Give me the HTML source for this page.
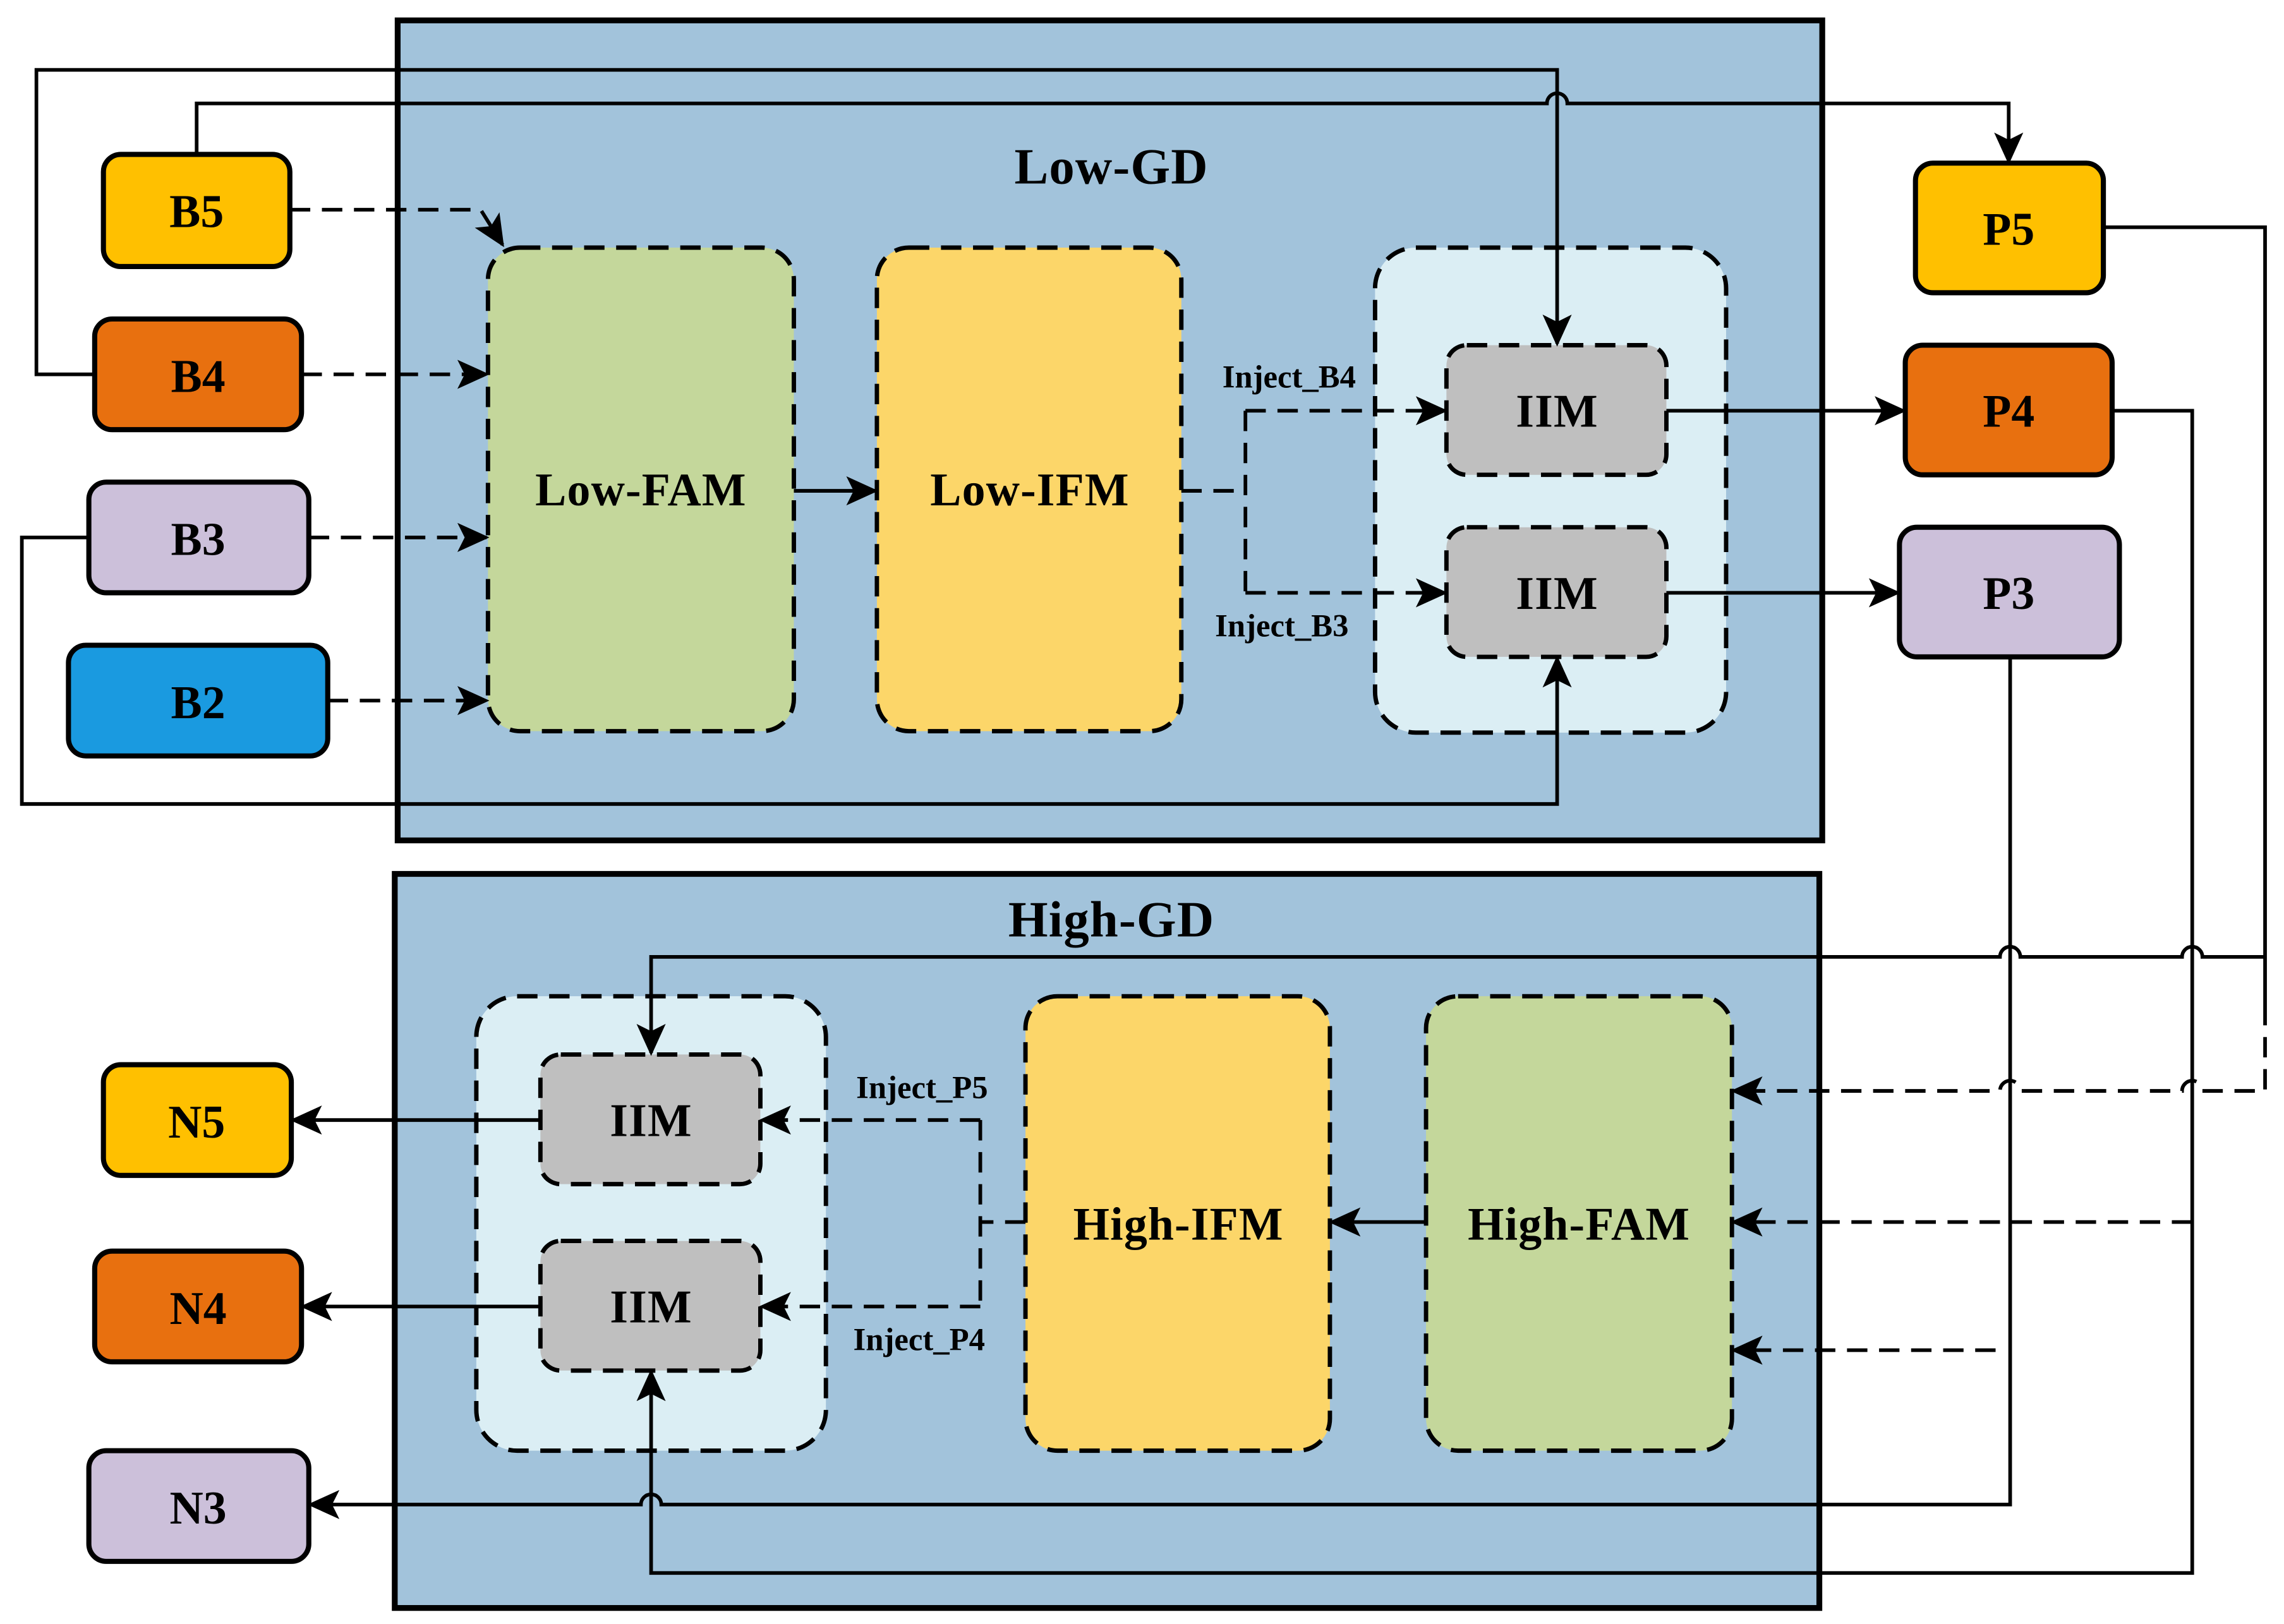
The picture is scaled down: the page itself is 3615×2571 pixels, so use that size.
<!DOCTYPE html>
<html><head><meta charset="utf-8"><style>
html,body{margin:0;padding:0;background:#fff}
svg{display:block}
text{font-family:"Liberation Serif",serif;font-weight:bold;fill:#000}
</style></head><body>
<svg width="3615" height="2571" viewBox="0 0 1568 1115" preserveAspectRatio="none" xmlns="http://www.w3.org/2000/svg">
<defs>
<marker id="b" markerWidth="22" markerHeight="20" refX="20" refY="10" orient="auto" markerUnits="userSpaceOnUse">
<path d="M0,0 L22,10 L0,20 L5,10 z" fill="#000"/>
</marker>
</defs>
<rect x="273" y="14" width="978" height="563" fill="#a2c3db" stroke="#000" stroke-width="4"/>
<rect x="271" y="600" width="978" height="504" fill="#a2c3db" stroke="#000" stroke-width="4"/>
<text x="763" y="126" font-size="35" text-anchor="middle" letter-spacing="0.5">Low-GD</text>
<text x="763" y="643" font-size="35" text-anchor="middle" letter-spacing="0.5">High-GD</text>

<g stroke="#000" stroke-width="3" stroke-dasharray="14,8">
<rect x="335" y="170" width="210" height="332" rx="22" fill="#c4d79b"/>
<rect x="602" y="170" width="209" height="332" rx="22" fill="#fcd669"/>
<rect x="944" y="170" width="241" height="333" rx="28" fill="#dbeef4"/>
<rect x="993" y="237" width="151" height="89" rx="14" fill="#bfbfbf"/>
<rect x="993" y="362" width="151" height="89" rx="14" fill="#bfbfbf"/>
<rect x="327" y="684" width="240" height="312" rx="28" fill="#dbeef4"/>
<rect x="371" y="724" width="151" height="89" rx="14" fill="#bfbfbf"/>
<rect x="371" y="852" width="151" height="89" rx="14" fill="#bfbfbf"/>
<rect x="704" y="684" width="209" height="312" rx="22" fill="#fcd669"/>
<rect x="979" y="684" width="210" height="312" rx="22" fill="#c4d79b"/>
</g>
<g font-size="32" text-anchor="middle" letter-spacing="0.5">
<text x="440" y="347">Low-FAM</text>
<text x="707" y="347">Low-IFM</text>
<text x="1069" y="293">IIM</text>
<text x="1069" y="418">IIM</text>
<text x="447" y="780">IIM</text>
<text x="447" y="908">IIM</text>
<text x="809" y="851">High-IFM</text>
<text x="1084" y="851">High-FAM</text>
</g>

<g stroke="#000" stroke-width="3.5">
<rect x="71" y="106" width="128" height="77" rx="12" fill="#ffc000"/>
<rect x="65" y="219" width="142" height="76" rx="12" fill="#e8700f"/>
<rect x="61" y="331" width="151" height="76" rx="12" fill="#ccc0da"/>
<rect x="47" y="443" width="178" height="76" rx="12" fill="#1a9ae0"/>
<rect x="1315" y="112" width="129" height="89" rx="12" fill="#ffc000"/>
<rect x="1308" y="237" width="142" height="89" rx="12" fill="#e8700f"/>
<rect x="1304" y="362" width="151" height="89" rx="12" fill="#ccc0da"/>
<rect x="71" y="731" width="129" height="76" rx="12" fill="#ffc000"/>
<rect x="65" y="859" width="142" height="76" rx="12" fill="#e8700f"/>
<rect x="61" y="996" width="151" height="76" rx="12" fill="#ccc0da"/>
</g>
<g font-size="32" text-anchor="middle">
<text x="135" y="156">B5</text>
<text x="136" y="269">B4</text>
<text x="136" y="381">B3</text>
<text x="136" y="493">B2</text>
<text x="1379" y="168">P5</text>
<text x="1379" y="293">P4</text>
<text x="1379" y="418">P3</text>
<text x="135" y="781">N5</text>
<text x="136" y="909">N4</text>
<text x="136" y="1046">N3</text>
</g>
<g font-size="22" text-anchor="middle">
<text x="885" y="266">Inject_B4</text>
<text x="880" y="437">Inject_B3</text>
<text x="633" y="754">Inject_P5</text>
<text x="631" y="927">Inject_P4</text>
</g>

<g stroke="#000" stroke-width="2.5" fill="none">
<path d="M65,257 H25 V48 H1069 V236" marker-end="url(#b)"/>
<path d="M135,106 V71 H1062 a7,7 0 0 1 14,0 H1379 V111" marker-end="url(#b)"/>
<path d="M61,369 H15 V552 H1069 V452" marker-end="url(#b)"/>
<path d="M545,337 H601" marker-end="url(#b)"/>
<path d="M1144,282 H1307" marker-end="url(#b)"/>
<path d="M1144,407 H1303" marker-end="url(#b)"/>
<path d="M1444,156 H1555 V690"/>
<path d="M1555,657 H1512 a7,7 0 0 0 -14,0 H1387 a7,7 0 0 0 -14,0 H447 V723" marker-end="url(#b)"/>
<path d="M1450,282 H1505 V1080 H447 V942" marker-end="url(#b)"/>
<path d="M1380,451 V1033 H454 a7,7 0 0 0 -14,0 H213" marker-end="url(#b)"/>
<path d="M979,839 H914" marker-end="url(#b)"/>
<path d="M371,769 H201" marker-end="url(#b)"/>
<path d="M371,897 H208" marker-end="url(#b)"/>
</g>
<g stroke="#000" stroke-width="2.5" fill="none" stroke-dasharray="14,8">
<path d="M199,144 H330 L345,168" marker-end="url(#b)"/>
<path d="M207,257 H334" marker-end="url(#b)"/>
<path d="M212,369 H334" marker-end="url(#b)"/>
<path d="M225,481 H334" marker-end="url(#b)"/>
<path d="M811,337 H855 M855,282 V407"/>
<path d="M855,282 H992" marker-end="url(#b)"/>
<path d="M855,407 H992" marker-end="url(#b)"/>
<path d="M1555,690 V749 H1512 a7,7 0 0 0 -14,0 H1387 a7,7 0 0 0 -14,0 H1190" marker-end="url(#b)"/>
<path d="M1505,839 H1190" marker-end="url(#b)"/>
<path d="M1370,927 H1190" marker-end="url(#b)"/>
<path d="M704,839 H673 M673,769 V897"/>
<path d="M673,769 H523" marker-end="url(#b)"/>
<path d="M673,897 H523" marker-end="url(#b)"/>
</g>
</svg>
</body></html>
